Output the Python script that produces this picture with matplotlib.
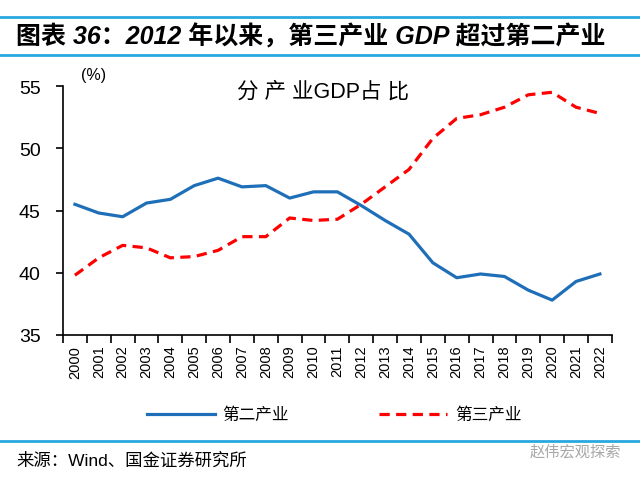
import matplotlib

matplotlib.use("Agg")

import matplotlib.pyplot as plt
import numpy as np
from matplotlib.lines import Line2D

plt.rcParams["font.family"] = ["Liberation Sans", "Noto Sans CJK SC", "DejaVu Sans"]

years = [str(y) for y in range(2000, 2023)]
secondary = [45.5, 44.8, 44.5, 45.6, 45.9, 47.0, 47.6, 46.9, 47.0, 46.0, 46.5, 46.5,
             45.4, 44.2, 43.1, 40.8, 39.6, 39.9, 39.7, 38.6, 37.8, 39.3, 39.9]
tertiary = [39.8, 41.2, 42.2, 42.0, 41.2, 41.3, 41.8, 42.9, 42.9, 44.4, 44.2, 44.3,
            45.5, 46.9, 48.3, 50.8, 52.4, 52.7, 53.3, 54.3, 54.5, 53.3, 52.8]
series_names = ["第二产业", "第三产业"]
y_ticks = [35, 40, 45, 50, 55]

fig = plt.figure(figsize=(6.4, 4.81), dpi=100)
ax = fig.add_axes([0.0984, 0.3015, 0.8576, 0.5175])

x = np.arange(len(years))
ax.plot(x, secondary, color="#1f6fb8", linewidth=2.3, label=series_names[0])
ax.plot(x, tertiary, color="#ff0000", linewidth=2.3, linestyle=(0, (3.2, 2.0)),
        label=series_names[1])

ax.set_xlim(-0.5, len(years) - 0.5)
ax.set_ylim(35, 55)
ax.set_yticks(y_ticks)
ax.tick_params(axis="y", labelsize=14, length=5, width=1.2, pad=11)

# labels at the category centres, tick marks on the boundaries
ax.set_xticks(x)
ax.set_xticklabels(years, rotation=90, fontsize=10.5)
ax.tick_params(axis="x", which="major", length=0, pad=7)
ax.set_xticks(np.arange(-0.5, len(years), 1), minor=True)
ax.tick_params(axis="x", which="minor", length=6, width=1.2)

for side in ("top", "right"):
    ax.spines[side].set_visible(False)
for side in ("left", "bottom"):
    ax.spines[side].set_linewidth(1.2)

ax.text(0.474, 0.98, "分 产 业GDP占 比", transform=ax.transAxes, fontsize=15.5,
        ha="center", va="center")
ax.text(0.056, 1.048, "(%)", transform=ax.transAxes, fontsize=11.5,
        ha="center", va="center")

fig.legend(loc="center", bbox_to_anchor=(0.522, 0.136), ncol=2, frameon=False,
           prop={"size": 12}, handlelength=4.1, handletextpad=0.45, columnspacing=5.4)

# header / footer rules
for y in (0.9626, 0.8836, 0.081):
    fig.add_artist(Line2D([0, 1], [y, y], transform=fig.transFigure,
                          color="#29a8e0", linewidth=2))

fig.text(0.025, 0.923, "图表 36：2012 年以来，第三产业 GDP 超过第二产业",
         fontsize=18, fontweight="bold", style="italic", va="center", ha="left")
fig.text(0.025, 0.042, "来源：Wind、国金证券研究所", fontsize=12.5, va="center")
fig.text(0.97, 0.06, "赵伟宏观探索", fontsize=11, color="#a8a8a8",
         va="center", ha="right")

fig.savefig("out.png", dpi=100)
